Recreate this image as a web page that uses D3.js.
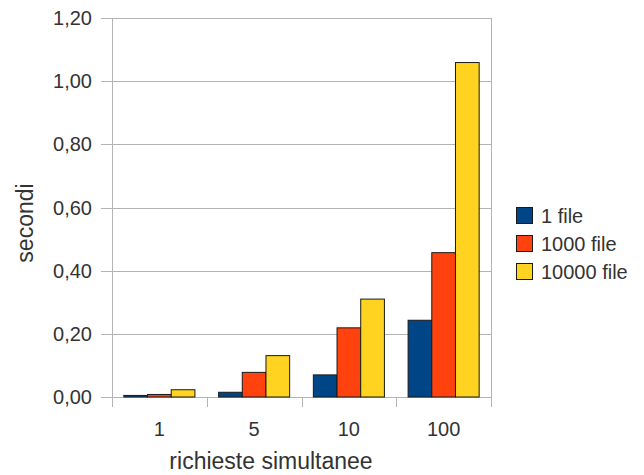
<!DOCTYPE html>
<html>
<head>
<meta charset="utf-8">
<script src="https://cdn.jsdelivr.net/npm/d3@7"></script>
<style>
  html, body { margin: 0; padding: 0; background: #fff; }
  svg { display: block; }
  text { font-family: "Liberation Sans", Arial, sans-serif; fill: #333; }
</style>
</head>
<body>
<svg id="chart" width="644" height="475"></svg>
<script>
const categories = ["1", "5", "10", "100"];
const seriesNames = ["1 file", "1000 file", "10000 file"];
const values1 = [0.005, 0.015, 0.070, 0.243];
const values1000 = [0.008, 0.078, 0.219, 0.457];
const values10000 = [0.023, 0.131, 0.310, 1.059];
const yTicks = [0, 0.2, 0.4, 0.6, 0.8, 1.0, 1.2];
const colors = ["#004586", "#ff420e", "#ffd320"];

const seriesValues = [values1, values1000, values10000];

const svg = d3.select("#chart");
const pLeft = 112, pRight = 491, pTop = 18, pBottom = 397;

const x = d3.scaleBand().domain(categories).range([pLeft, pRight]).paddingInner(0).paddingOuter(0);
const xInner = d3.scaleBand().domain(seriesNames).range([0, x.bandwidth()]).paddingInner(0).paddingOuter(0.5);
const y = d3.scaleLinear().domain([0, 1.2]).range([pBottom, pTop]);

const fmt = v => d3.format(".2f")(v).replace(".", ",");

// gridlines
svg.append("g").selectAll("line").data(yTicks).join("line")
  .attr("x1", pLeft - 11).attr("x2", pRight)
  .attr("y1", d => Math.round(y(d)) + 0.5).attr("y2", d => Math.round(y(d)) + 0.5)
  .attr("stroke", "#b3b3b3").attr("stroke-width", 1);

// y labels
svg.append("g").selectAll("text").data(yTicks).join("text")
  .attr("x", 92).attr("y", d => y(d)).attr("dy", "0.35em")
  .attr("text-anchor", "end").style("font-size", "20px")
  .text(fmt);

// x axis ticks at band boundaries
const bounds = categories.map(c => x(c)).concat([pRight]);
svg.append("g").selectAll("line").data(bounds).join("line")
  .attr("x1", d => Math.round(d) + 0.5).attr("x2", d => Math.round(d) + 0.5)
  .attr("y1", pBottom).attr("y2", pBottom + 10)
  .attr("stroke", "#b3b3b3");

// left and right borders
[pLeft, pRight].forEach(xx => {
  svg.append("line").attr("x1", Math.round(xx) + 0.5).attr("x2", Math.round(xx) + 0.5)
    .attr("y1", pTop).attr("y2", pBottom)
    .attr("stroke", "#b3b3b3");
});

// bars
const groups = svg.append("g").selectAll("g").data(categories).join("g")
  .attr("transform", c => `translate(${x(c)},0)`);
groups.selectAll("rect").data((c, ci) => seriesNames.map((s, si) => ({ s, si, v: seriesValues[si][ci] })))
  .join("rect")
  .attr("x", d => xInner(d.s))
  .attr("y", d => y(d.v))
  .attr("width", xInner.bandwidth())
  .attr("height", d => pBottom - y(d.v))
  .attr("fill", d => colors[d.si])
  .attr("stroke", "#1a1a1a").attr("stroke-width", 1);

// x labels
svg.append("g").selectAll("text").data(categories).join("text")
  .attr("x", c => x(c) + x.bandwidth() / 2).attr("y", 436)
  .attr("text-anchor", "middle").style("font-size", "20px")
  .text(c => c);

// axis titles
svg.append("text").attr("x", 271).attr("y", 469)
  .attr("text-anchor", "middle").style("font-size", "23px")
  .text("richieste simultanee");
svg.append("text").attr("transform", "translate(33,223) rotate(-90)")
  .attr("text-anchor", "middle").style("font-size", "23px")
  .text("secondi");

// legend
const legend = svg.append("g").selectAll("g").data(seriesNames).join("g")
  .attr("transform", (d, i) => `translate(516,${207 + i * 28})`);
legend.append("rect").attr("x", 0.5).attr("y", 0.5).attr("width", 16).attr("height", 16)
  .attr("fill", (d, i) => colors[i]).attr("stroke", "#1a1a1a");
legend.append("text").attr("x", 25).attr("y", 8.5).attr("dy", "0.35em")
  .style("font-size", "20px").text(d => d);
</script>
</body>
</html>
